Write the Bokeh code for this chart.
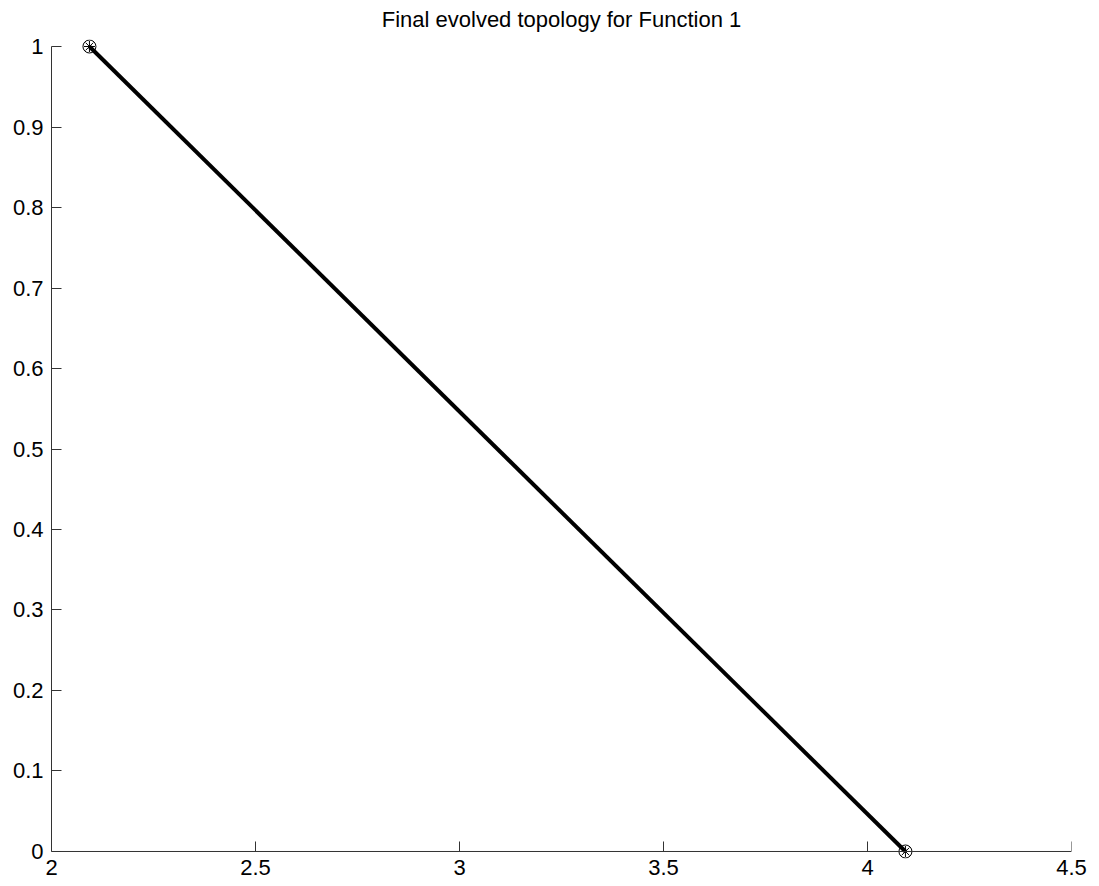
from bokeh.plotting import figure
from bokeh.embed import file_html
from bokeh.resources import INLINE
from bokeh.models import Range1d, FixedTicker, Span

# Data
node_x = [2.093, 4.093]
node_y = [1.0, 0.0]
x_ticks = [2, 2.5, 3, 3.5, 4, 4.5]
y_ticks = [0, 0.1, 0.2, 0.3, 0.4, 0.5, 0.6, 0.7, 0.8, 0.9, 1]
title_text = "Final evolved topology for Function 1"

pad = 0.0087
axis_color = "#333333"
p = figure(width=1091, height=878, output_backend="svg", toolbar_location=None,
           x_range=Range1d(2, 4.5), y_range=Range1d(-pad, 1 + pad),
           min_border_left=51, min_border_right=20, min_border_bottom=20, min_border_top=39)
p.title.text = title_text
p.title.align = "center"
p.title.vertical_align = "top"
p.title.text_font = "Liberation Sans"
p.title.text_font_size = "22px"
p.title.text_font_style = "normal"
p.title.text_color = "black"
p.title.offset = 0
p.title.standoff = 12

# bottom axis line and inward ticks drawn at y = 0
p.add_layout(Span(location=0, dimension="width", line_color=axis_color, line_width=1))
tick_len = 10 / 805.0
p.segment(x0=x_ticks, y0=[0] * len(x_ticks), x1=x_ticks, y1=[tick_len] * len(x_ticks),
          line_color=axis_color, line_width=1)

p.line(node_x, node_y, line_width=4, line_color="black")
p.scatter(node_x, node_y, marker="circle", size=13, fill_alpha=0,
          line_color="black", line_width=1)
p.scatter(node_x, node_y, marker="asterisk", size=11, line_color="black", line_width=1)

p.grid.visible = False
p.outline_line_color = None
for ax, ticks in ((p.xaxis, x_ticks), (p.yaxis, y_ticks)):
    ax.ticker = FixedTicker(ticks=ticks)
    ax.minor_tick_line_color = None
    ax.major_label_text_font = "Liberation Sans"
    ax.major_label_text_font_size = "22px"
    ax.major_label_text_color = "black"
p.yaxis.major_tick_in = 10
p.yaxis.major_tick_out = 0
p.yaxis.axis_line_color = axis_color
p.yaxis.major_tick_line_color = axis_color
p.yaxis.bounds = (0, 1)
p.xaxis.axis_line_color = None
p.xaxis.major_tick_line_color = None
p.xaxis.major_tick_in = 0
p.xaxis.major_tick_out = 0
p.xaxis.major_label_standoff = 1
p.yaxis.major_label_standoff = 8
p.xaxis.major_label_overrides = {2: "2", 3: "3", 4: "4"}
p.yaxis.major_label_overrides = {0: "0", 1: "1"}

open("out.html", "w").write(file_html(p, INLINE))
